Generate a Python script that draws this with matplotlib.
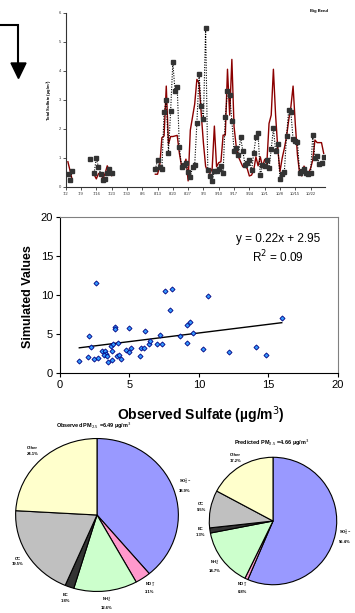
import numpy as np
import pandas as pd
import matplotlib
matplotlib.use('Agg')
import matplotlib.pyplot as plt
import matplotlib.dates as mdates
from matplotlib.patches import Polygon

plt.rcParams['font.family'] = ['Liberation Sans', 'DejaVu Sans']

# ---------------- data ----------------
# Time series (total sulfate, ug/m3), Big Bend, 1999
obs_seg1_start = '1999-07-03'
obs_seg1 = [0.45, 0.22, 0.53]
obs_seg2_start = '1999-07-13'
obs_seg2 = [0.95, np.nan, 0.47, 0.98, 0.68, 0.45, 0.23, 0.26, 0.47, 0.60, 0.48]
obs_seg3_start = '1999-08-12'
obs_seg3 = [0.60, 0.91, 0.69, 0.60, 2.57, 2.98, 1.16, 2.62, 4.29, 3.30,
            3.44, 1.36, 0.69, 0.75, 0.81, 0.52, 0.34, 0.68, 0.74, 2.19,
            3.88, 2.77, 2.35, 5.47, 0.59, 0.36, 0.21, 0.53, 0.53, 0.60,
            0.72, 0.47, 2.39, 3.30, 3.16, 2.28, 1.23, 1.32, 1.09, 1.70,
            1.24, 0.76, 0.83, 0.91, 0.56, 1.15, 1.70, 1.84, 0.39, 0.74,
            0.72, 0.91, 0.63, 1.29, 2.02, 1.23, 1.46, 0.26, 0.43, 0.49,
            1.76, 2.64, 2.56, 1.63, 1.59, 1.53, 0.48, 0.55, 0.60, 0.46,
            0.44, 0.46, 1.78, 0.98, 1.07, 0.77, 0.80, 1.01]

mod_seg1_start = '1999-07-03'
mod_seg1 = [0.86, 0.55, 0.22]
mod_seg2_start = '1999-07-15'
mod_seg2 = [0.42, 0.27, 0.45, 0.47, 0.28, 0.45, 0.72, 0.55, 0.38]
mod_seg3_start = '1999-08-12'
mod_seg3 = [0.43, 0.43, 0.71, 1.69, 1.75, 3.47, 1.47, 1.73, 1.73, 1.75,
            1.77, 1.15, 0.71, 0.70, 0.95, 0.20, 1.95, 2.40, 2.85, 3.70,
            3.57, 2.50, 1.50, 0.70, 0.52, 0.46, 0.63, 2.09, 0.69, 0.83,
            0.86, 1.78, 1.78, 4.05, 2.47, 4.39, 2.07, 1.38, 1.03, 0.86,
            0.69, 0.69, 0.63, 0.37, 0.40, 0.57, 1.03, 0.72, 1.03, 0.69,
            0.94, 0.80, 2.18, 2.47, 4.05, 2.47, 1.32, 0.52, 0.98, 1.32,
            1.72, 2.30, 2.76, 3.47, 2.18, 1.09, 0.46, 0.37, 0.71, 0.55,
            0.46, 0.63, 0.92, 1.61, 1.52, 1.52, 1.52, 1.15]

ts_tick_start = '1999-07-02'
ts_tick_end = '1999-10-22'
ts_yticks = [0, 1, 2, 3, 4, 5, 6]

# Scatter: observed vs simulated sulfate
obs_sulfate = [1.39, 2.02, 2.09, 2.21, 2.57, 2.45, 2.74, 3.05, 3.27, 3.31,
               3.19, 3.39, 3.43, 3.65, 3.75, 3.72, 3.79, 3.94, 3.96, 4.20,
               4.13, 4.23, 4.37, 4.75, 4.95, 5.11, 4.95, 5.79, 5.81, 6.03,
               6.15, 6.41, 6.48, 6.96, 7.18, 7.37, 7.54, 7.90, 8.09, 8.67,
               9.12, 9.17, 9.39, 9.60, 10.28, 10.63, 12.20, 14.09, 14.81, 15.97]
sim_sulfate = [1.62, 2.13, 4.81, 3.32, 11.53, 1.83, 2.00, 2.85, 2.89, 2.51,
               2.34, 2.26, 1.49, 3.49, 2.89, 1.70, 3.70, 5.91, 5.66, 3.91,
               2.17, 2.34, 1.87, 2.98, 2.77, 3.19, 5.83, 2.21, 3.19, 3.19,
               5.36, 3.74, 4.09, 3.74, 4.94, 3.74, 10.55, 8.09, 10.77, 4.81,
               6.21, 3.87, 6.55, 5.19, 3.15, 9.91, 2.77, 3.32, 2.34, 7.11]
fit_slope = 0.22
fit_intercept = 2.95
fit_r2 = 0.09

# Pies
species = [r'SO$_4^{2-}$', r'NO$_3^{-}$', r'NH$_4^{+}$', 'EC', 'OC', 'Other']
species_colors = ['#9999FF', '#FF99CC', '#CCFFCC', '#333333', '#C0C0C0', '#FFFFCC']
obs_pct = [38.9, 3.1, 12.6, 1.8, 19.5, 24.1]
pred_pct = [56.4, 0.8, 14.7, 1.3, 9.5, 17.2]
obs_total = 6.49
pred_total = 4.66

# ---------------- figure ----------------
W, H = 355, 613
fig = plt.figure(figsize=(W / 100, H / 100), dpi=100)


def box(l, t, r, b):
    return [l / W, 1 - b / H, (r - l) / W, (b - t) / H]


# overlay for arrow
ov = fig.add_axes([0, 0, 1, 1])
ov.set_xlim(0, W)
ov.set_ylim(H, 0)
ov.axis('off')
ov.plot([0, 18.3, 18.3], [25, 25, 64], color='black', lw=1.5, solid_joinstyle='miter')
ov.add_patch(Polygon([[11, 63], [26, 63], [18.5, 78.5]], closed=True, color='black'))

# ---------- time series ----------
ax = fig.add_axes(box(65.7, 12.7, 325, 186.7))


def seg(start, vals):
    return pd.date_range(start, periods=len(vals), freq='D'), np.array(vals, dtype=float)


for st, vals in [(mod_seg1_start, mod_seg1), (mod_seg2_start, mod_seg2), (mod_seg3_start, mod_seg3)]:
    d, v = seg(st, vals)
    ax.plot(d, v, color='#8B0000', lw=1.0, zorder=2)
for st, vals in [(obs_seg1_start, obs_seg1), (obs_seg2_start, obs_seg2), (obs_seg3_start, obs_seg3)]:
    d, v = seg(st, vals)
    ax.plot(d, v, color='black', lw=0.8, ls=(0, (1, 1.3)), marker='s', ms=2.4,
            mfc='#333333', mec='#333333', zorder=3)

t0 = pd.Timestamp(ts_tick_start)
ax.set_xlim(mdates.date2num(t0), mdates.date2num(t0 + pd.Timedelta(days=118.6)))
ax.set_ylim(0, 6)
ticks = pd.date_range(ts_tick_start, ts_tick_end, freq='7D')
ax.set_xticks(ticks)
ax.set_xticklabels([f'{d.month}/{d.day}' for d in ticks], fontsize=3)
ax.set_yticks(ts_yticks)
ax.set_yticklabels([str(t) for t in ts_yticks], fontsize=3)
ax.tick_params(length=2, width=0.6, pad=1.5, colors='#333333')
for s in ['top', 'right']:
    ax.spines[s].set_visible(False)
for s in ['left', 'bottom']:
    ax.spines[s].set_color('#333333')
    ax.spines[s].set_linewidth(0.8)
ax.set_ylabel('Total Sulfate (µg/m$^3$)', fontsize=3, fontweight='bold')
ax.yaxis.set_label_coords(-0.041, 0.5)
ax.patch.set_visible(False)
fig.text(319 / W, 1 - 11 / H, 'Big Bend', fontsize=3, fontweight='bold', ha='center', va='center')

# ---------- scatter ----------
ax2 = fig.add_axes(box(60, 216.7, 337.7, 373.3))
ax2.plot(obs_sulfate, sim_sulfate, 'D', ms=2.6, mfc='#3399FF', mec='#000080', mew=0.6, zorder=3)
xf = np.array([min(obs_sulfate), max(obs_sulfate)])
ax2.plot(xf, fit_slope * xf + fit_intercept, color='black', lw=1.0, zorder=2)
ax2.set_xlim(0, 20)
ax2.set_ylim(0, 20)
ax2.set_xticks([0, 5, 10, 15, 20])
ax2.set_yticks([0, 5, 10, 15, 20])
ax2.tick_params(labelsize=8, length=3, width=0.8, pad=2)
for s in ['top', 'right']:
    ax2.spines[s].set_color('#808080')
    ax2.spines[s].set_linewidth(0.8)
for s in ['left', 'bottom']:
    ax2.spines[s].set_color('black')
    ax2.spines[s].set_linewidth(0.8)
ax2.text(0.785, 0.86, f'y = {fit_slope:.2f}x + {fit_intercept:.2f}', transform=ax2.transAxes,
         fontsize=8.5, ha='center', va='center')
ax2.text(0.785, 0.745, f'R$^2$ = {fit_r2:.2f}', transform=ax2.transAxes,
         fontsize=8.5, ha='center', va='center')
fig.text(28 / W, 1 - 297 / H, 'Simulated Values', rotation=90, fontsize=9,
         fontweight='bold', ha='center', va='center')
fig.text(201 / W, 1 - 415 / H, 'Observed Sulfate (µg/m$^3$)', fontsize=10,
         fontweight='bold', ha='center', va='center')

# ---------- pies ----------


def draw_pie(rect, pct, total, title, title_xy):
    a = fig.add_axes(rect)
    labels = [f'{n}\n{p:.1f}%' for n, p in zip(species, pct)]
    wedges, texts = a.pie(pct, colors=species_colors, startangle=90, counterclock=False,
                          labels=labels, labeldistance=1.15,
                          wedgeprops=dict(edgecolor='black', linewidth=0.8),
                          textprops=dict(fontsize=3, fontweight='bold'))
    for t in texts:
        t.set_ha('center')
        t.set_va('center')
        t.set_linespacing(1.6)
    a.set_aspect('auto')
    a.set_xlim(-1.02, 1.02)
    a.set_ylim(-1.02, 1.02)
    fig.text(title_xy[0] / W, 1 - title_xy[1] / H,
             f'{title} PM$_{{2.5}}$ ={total:.2f} µg/m$^3$', fontsize=4, fontweight='bold',
             ha='center', va='center')


draw_pie(box(14, 437, 180, 593), obs_pct, obs_total, 'Observed', (93.5, 426))
draw_pie(box(208, 456, 338, 586), pred_pct, pred_total, 'Predicted', (272, 443))

fig.savefig('out.png', dpi=100)
